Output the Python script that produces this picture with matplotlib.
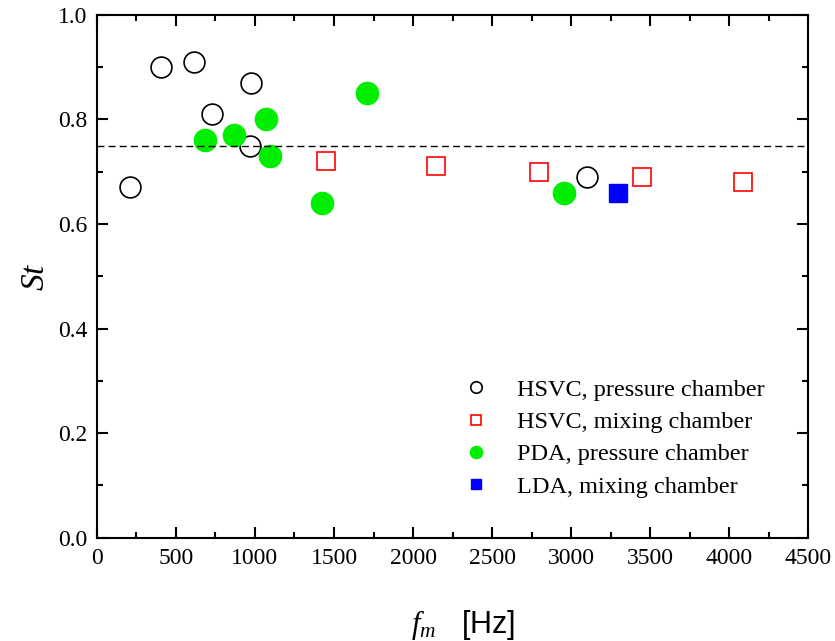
import numpy as np
import matplotlib.pyplot as plt
from matplotlib.ticker import MultipleLocator

plt.rcParams['font.family'] = ['Liberation Serif', 'DejaVu Serif']
plt.rcParams['mathtext.fontset'] = 'custom'
plt.rcParams['mathtext.it'] = 'Liberation Serif:italic'
plt.rcParams['mathtext.rm'] = 'Liberation Serif'

# HSVC, pressure chamber
hsvc_p_f = [209, 405, 614, 728, 975, 968, 3102]
hsvc_p_st = [0.67, 0.90, 0.91, 0.81, 0.87, 0.75, 0.69]
# HSVC, mixing chamber
hsvc_m_f = [1450, 2146, 2798, 3450, 4089]
hsvc_m_st = [0.72, 0.71, 0.70, 0.69, 0.68]
# PDA, pressure chamber
pda_f = [684, 867, 1070, 1095, 1424, 1709, 2956]
pda_st = [0.76, 0.77, 0.80, 0.73, 0.64, 0.85, 0.66]
# LDA, mixing chamber
lda_f = [3298]
lda_st = [0.66]

st_mean = 0.75

fig = plt.figure(figsize=(8.35, 6.41), dpi=100)
ax = fig.add_axes([0.116, 0.161, 0.852, 0.816])

ax.plot(hsvc_p_f, hsvc_p_st, 'o', ms=15, mfc='none', mec='black', mew=1.2,
        label='HSVC, pressure chamber')
ax.plot(hsvc_m_f, hsvc_m_st, 's', ms=13, mfc='none', mec='red', mew=1.2,
        label='HSVC, mixing chamber')
ax.plot(pda_f, pda_st, 'o', ms=16, mfc='#00ee00', mec='#00ee00',
        label='PDA, pressure chamber')
ax.plot(lda_f, lda_st, 's', ms=13, mfc='blue', mec='blue',
        label='LDA, mixing chamber')
ax.axhline(st_mean, color='black', ls=(0, (5, 3)), lw=1)

ax.set_xlim(0, 4500)
ax.set_ylim(0, 1.0)
ax.xaxis.set_major_locator(MultipleLocator(500))
ax.xaxis.set_minor_locator(MultipleLocator(250))
ax.yaxis.set_major_locator(MultipleLocator(0.2))
ax.yaxis.set_minor_locator(MultipleLocator(0.1))
ax.yaxis.set_major_formatter(plt.FormatStrFormatter('%.1f'))
ax.tick_params(which='both', direction='in', top=True, right=True, width=1.5,
               labelsize=17, pad=7)
ax.tick_params(which='major', length=8)
ax.tick_params(which='minor', length=4)
for s in ax.spines.values():
    s.set_linewidth(1.5)

ax.set_ylabel('$St$', fontsize=24, labelpad=5)
ax.set_xlabel('$f_m$   [Hz]', fontsize=22, family='Liberation Sans')
ax.xaxis.set_label_coords(0.515, -0.135)

ax.legend(loc='lower right', bbox_to_anchor=(0.97, 0.035), frameon=False,
          fontsize=17.5, markerscale=0.55, handletextpad=0.7, labelspacing=0.42)

fig.savefig('out.png', dpi=100)
